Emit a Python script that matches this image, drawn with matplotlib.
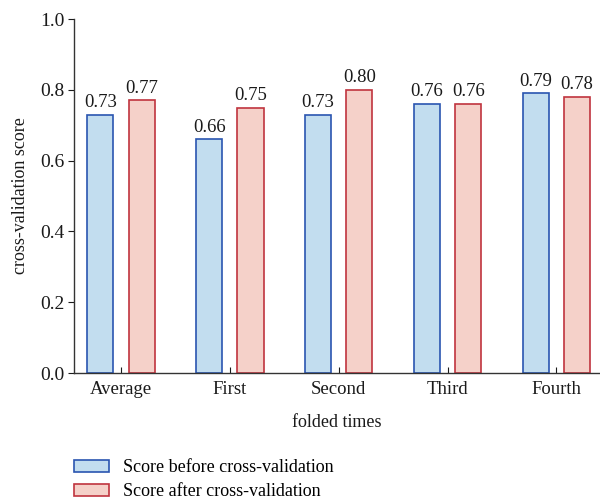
import numpy as np
import matplotlib
matplotlib.use("Agg")
import matplotlib.pyplot as plt

folds = ["Average", "First", "Second", "Third", "Fourth"]
score_before = [0.73, 0.66, 0.73, 0.76, 0.79]
score_after = [0.77, 0.75, 0.80, 0.76, 0.78]

plt.rcParams['font.family'] = ['Liberation Serif', 'DejaVu Serif']

fig = plt.figure(figsize=(6, 5.03), dpi=100)
ax = fig.add_axes([0.1233, 0.2584, 0.8767, 0.7038])

x = np.arange(len(folds))
w = 0.24
b1 = ax.bar(x - 0.19, score_before, w, color="#c2ddef", edgecolor="#2a55b0", linewidth=1.2,
            label="Score before cross-validation")
b2 = ax.bar(x + 0.19, score_after, w, color="#f5d1c9", edgecolor="#c0343e", linewidth=1.2,
            label="Score after cross-validation")

# value labels above each bar
for bars, vals in ((b1, score_before), (b2, score_after)):
    for r, v in zip(bars, vals):
        ax.text(r.get_x() + r.get_width() / 2, v + 0.01, "%.2f" % v,
                ha="center", va="bottom", fontsize=13.5, color="#1a1a1a")

ax.set_xlim(-0.432, 4.40)
ax.set_ylim(0, 1.0)
ax.set_yticks([0, 0.2, 0.4, 0.6, 0.8, 1.0])
ax.set_yticklabels(["0.0", "0.2", "0.4", "0.6", "0.8", "1.0"])
ax.set_xticks(x)
ax.set_xticklabels(folds)
ax.tick_params(axis="y", direction="out", length=4, labelsize=14, colors="#1a1a1a", pad=3)
ax.tick_params(axis="x", direction="in", length=4, labelsize=13.5, colors="#1a1a1a", pad=6)
for s in ("top", "right"):
    ax.spines[s].set_visible(False)
for s in ("left", "bottom"):
    ax.spines[s].set_color("#333333")
    ax.spines[s].set_linewidth(1.0)

ax.set_xlabel("folded times", fontsize=13, color="#1a1a1a", labelpad=11)
ax.set_ylabel("cross-validation score", fontsize=13, color="#1a1a1a", labelpad=8)

fig.legend(handles=[b1, b2], loc="upper left", bbox_to_anchor=(0.109, 0.105),
           frameon=False, fontsize=13, handlelength=1.9, handleheight=0.7,
           handletextpad=0.8, labelspacing=0.4, borderpad=0)

fig.savefig("out.png", dpi=100)
